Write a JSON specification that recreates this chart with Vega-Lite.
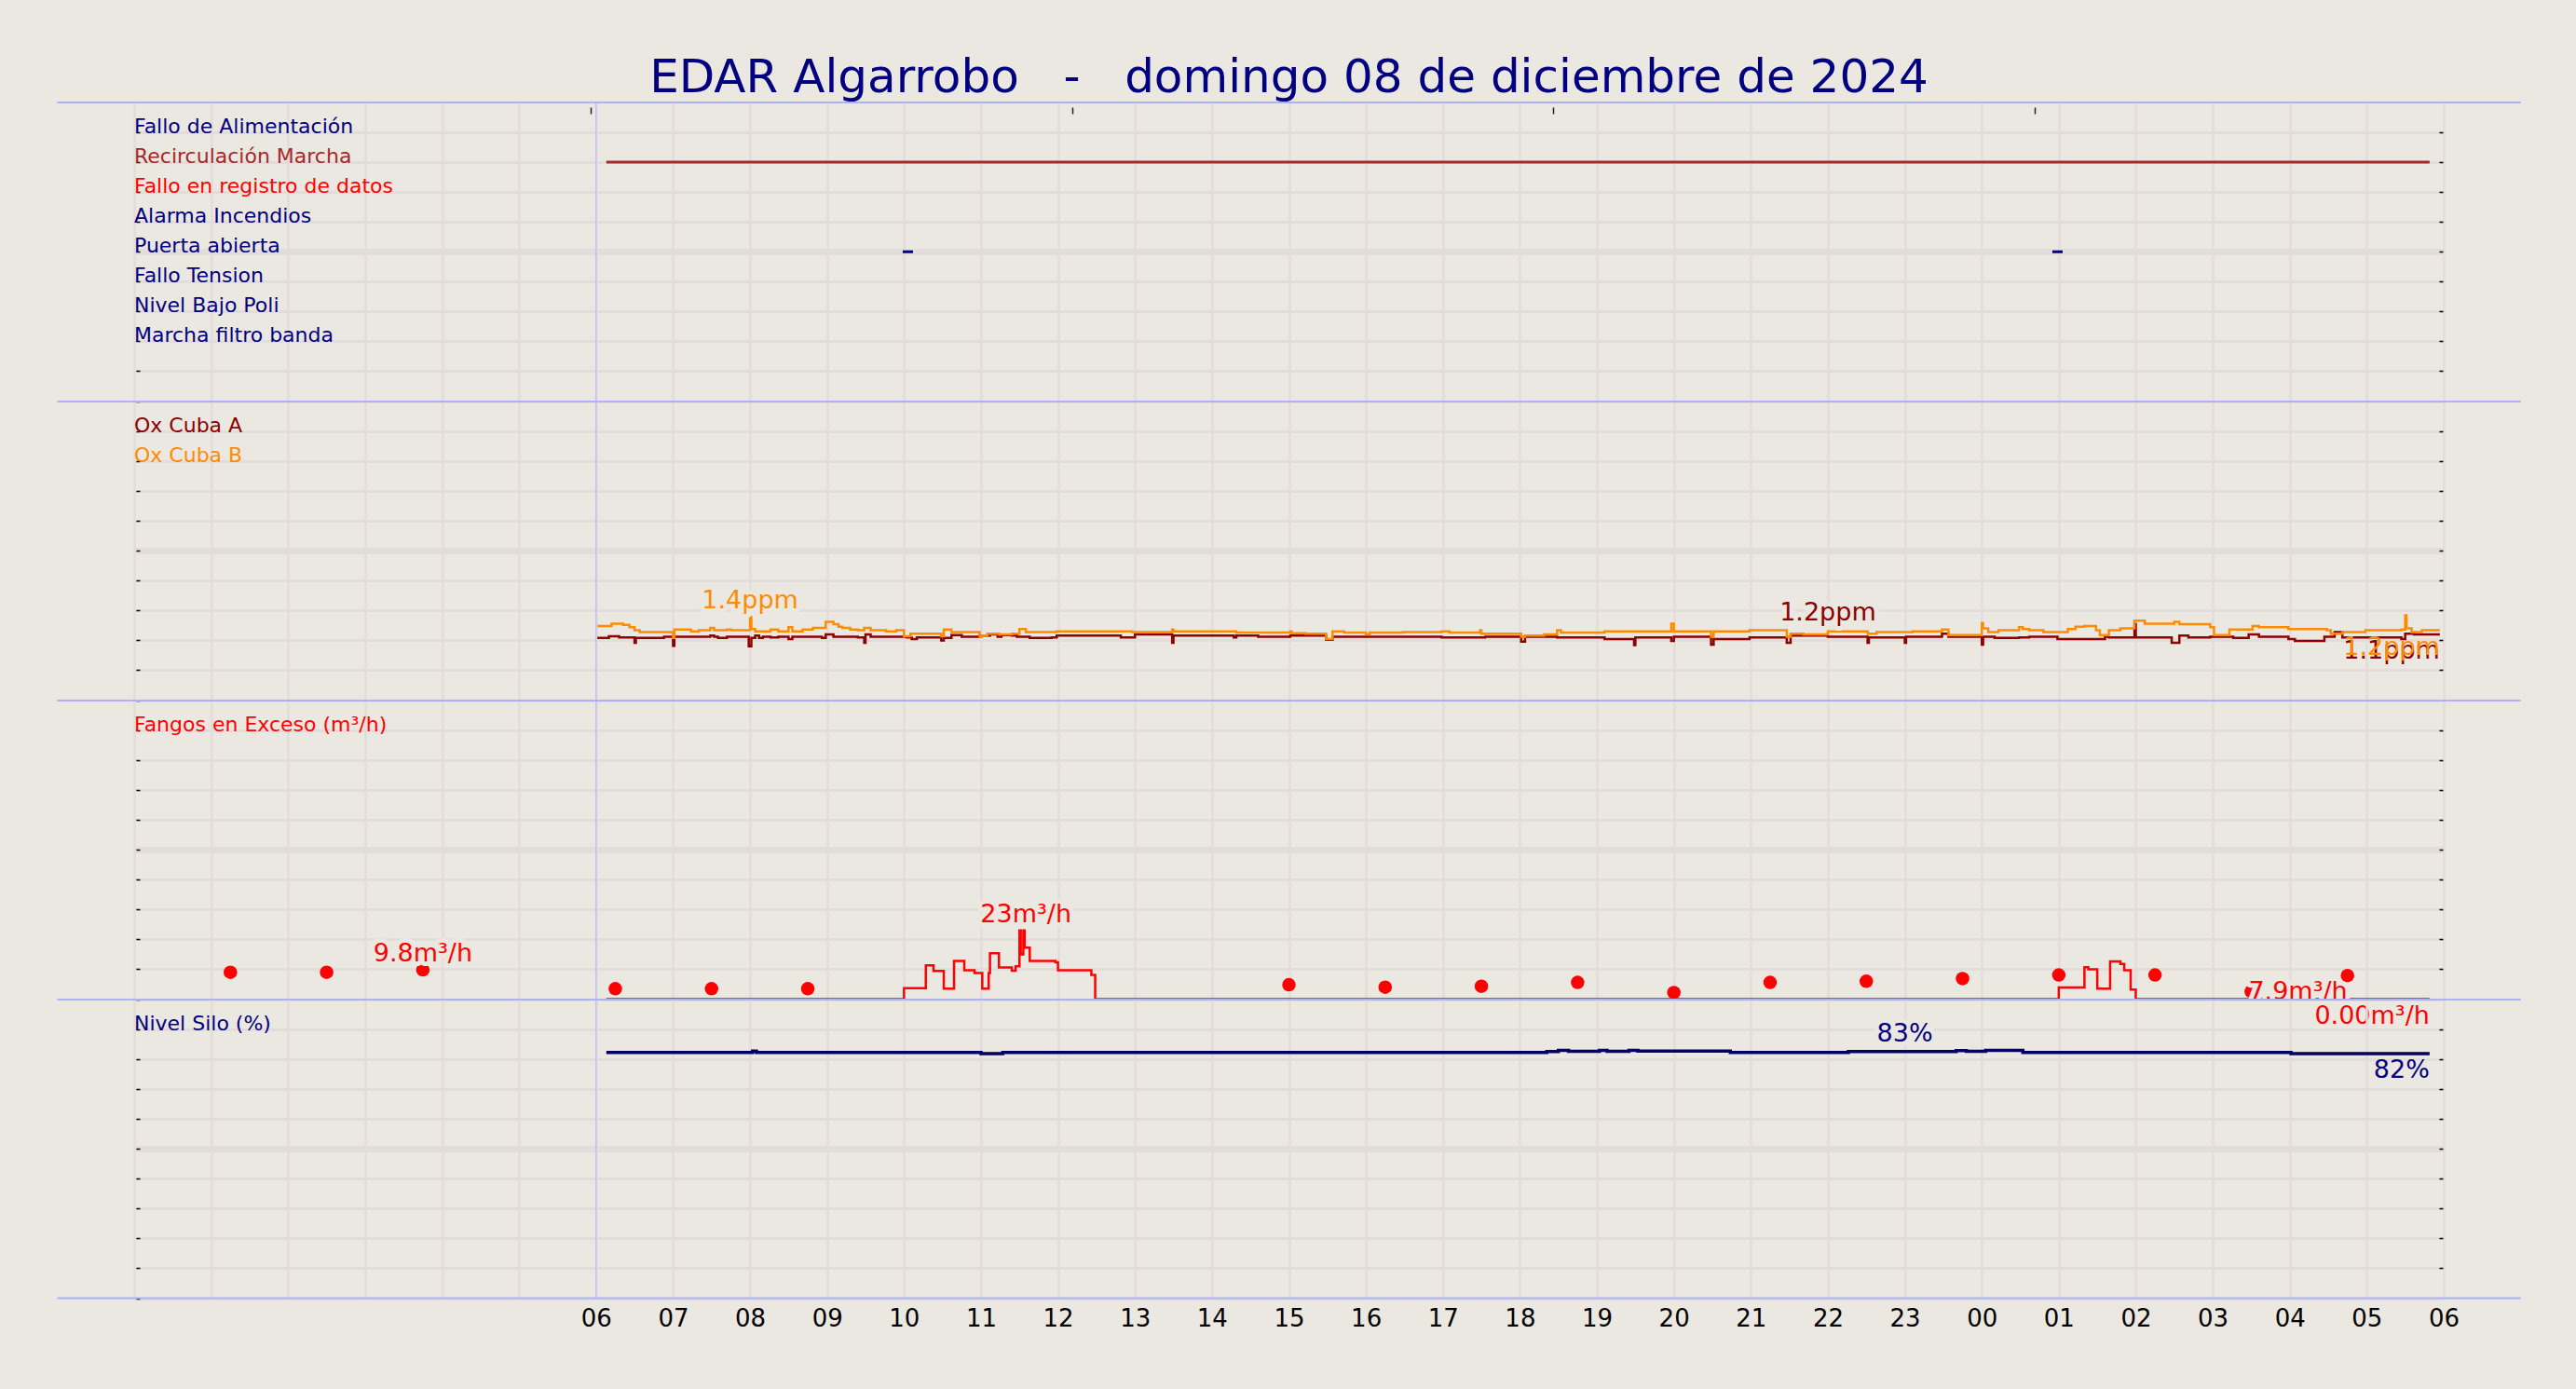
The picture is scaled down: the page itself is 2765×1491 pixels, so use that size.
{
  "$schema": "https://vega.github.io/schema/vega-lite/v6.json",
  "background": "#ebe7e1",
  "padding": {"left": 60, "top": 59, "right": 62, "bottom": 64},
  "title": {
    "text": "EDAR Algarrobo\u00a0\u00a0\u00a0-\u00a0\u00a0\u00a0domingo 08 de diciembre de 2024",
    "fontSize": 50, "font": "DejaVu Sans", "fontWeight": "normal", "color": "#000080",
    "anchor": "middle", "offset": 0
  },
  "config": {"font": "DejaVu Sans", "view": {"stroke": null}},
  "spacing": 0,
  "bounds": "flush",
  "resolve": {"scale": {"color": "independent"}},
  "datasets": {
    "sig": [
      {"signal": "Fallo de Alimentación"},
      {"signal": "Recirculación Marcha"},
      {"signal": "Fallo en registro de datos"},
      {"signal": "Alarma Incendios"},
      {"signal": "Puerta abierta"},
      {"signal": "Fallo Tension"},
      {"signal": "Nivel Bajo Poli"},
      {"signal": "Marcha filtro banda"}
    ],
    "ev": [
      {"signal": "Recirculación Marcha", "start": "2024-12-08T06:08Z", "end": "2024-12-09T05:49Z"},
      {"signal": "Puerta abierta", "start": "2024-12-08T09:59Z", "end": "2024-12-08T10:07Z"},
      {"signal": "Puerta abierta", "start": "2024-12-09T00:55Z", "end": "2024-12-09T01:03Z"}
    ],
    "ox": [
      {"t": "2024-12-08T06:01Z", "serie": "Ox Cuba A", "ppm": 1.04},
      {"t": "2024-12-08T06:10Z", "serie": "Ox Cuba A", "ppm": 1.07},
      {"t": "2024-12-08T06:18Z", "serie": "Ox Cuba A", "ppm": 1.05},
      {"t": "2024-12-08T06:30Z", "serie": "Ox Cuba A", "ppm": 0.96},
      {"t": "2024-12-08T06:31Z", "serie": "Ox Cuba A", "ppm": 1.04},
      {"t": "2024-12-08T06:53Z", "serie": "Ox Cuba A", "ppm": 1.06},
      {"t": "2024-12-08T07:00Z", "serie": "Ox Cuba A", "ppm": 0.91},
      {"t": "2024-12-08T07:01Z", "serie": "Ox Cuba A", "ppm": 1.06},
      {"t": "2024-12-08T07:29Z", "serie": "Ox Cuba A", "ppm": 1.08},
      {"t": "2024-12-08T07:32Z", "serie": "Ox Cuba A", "ppm": 1.06},
      {"t": "2024-12-08T07:35Z", "serie": "Ox Cuba A", "ppm": 1.04},
      {"t": "2024-12-08T07:42Z", "serie": "Ox Cuba A", "ppm": 1.06},
      {"t": "2024-12-08T07:59Z", "serie": "Ox Cuba A", "ppm": 0.90},
      {"t": "2024-12-08T08:01Z", "serie": "Ox Cuba A", "ppm": 1.04},
      {"t": "2024-12-08T08:04Z", "serie": "Ox Cuba A", "ppm": 1.08},
      {"t": "2024-12-08T08:07Z", "serie": "Ox Cuba A", "ppm": 1.04},
      {"t": "2024-12-08T08:10Z", "serie": "Ox Cuba A", "ppm": 1.06},
      {"t": "2024-12-08T08:16Z", "serie": "Ox Cuba A", "ppm": 1.05},
      {"t": "2024-12-08T08:22Z", "serie": "Ox Cuba A", "ppm": 1.06},
      {"t": "2024-12-08T08:30Z", "serie": "Ox Cuba A", "ppm": 1.02},
      {"t": "2024-12-08T08:33Z", "serie": "Ox Cuba A", "ppm": 1.06},
      {"t": "2024-12-08T08:56Z", "serie": "Ox Cuba A", "ppm": 1.04},
      {"t": "2024-12-08T08:59Z", "serie": "Ox Cuba A", "ppm": 1.10},
      {"t": "2024-12-08T09:05Z", "serie": "Ox Cuba A", "ppm": 1.06},
      {"t": "2024-12-08T09:24Z", "serie": "Ox Cuba A", "ppm": 1.05},
      {"t": "2024-12-08T09:29Z", "serie": "Ox Cuba A", "ppm": 0.96},
      {"t": "2024-12-08T09:30Z", "serie": "Ox Cuba A", "ppm": 1.10},
      {"t": "2024-12-08T09:34Z", "serie": "Ox Cuba A", "ppm": 1.06},
      {"t": "2024-12-08T10:02Z", "serie": "Ox Cuba A", "ppm": 1.05},
      {"t": "2024-12-08T10:06Z", "serie": "Ox Cuba A", "ppm": 1.02},
      {"t": "2024-12-08T10:10Z", "serie": "Ox Cuba A", "ppm": 1.05},
      {"t": "2024-12-08T10:29Z", "serie": "Ox Cuba A", "ppm": 1.00},
      {"t": "2024-12-08T10:31Z", "serie": "Ox Cuba A", "ppm": 1.04},
      {"t": "2024-12-08T10:37Z", "serie": "Ox Cuba A", "ppm": 1.09},
      {"t": "2024-12-08T10:45Z", "serie": "Ox Cuba A", "ppm": 1.06},
      {"t": "2024-12-08T10:59Z", "serie": "Ox Cuba A", "ppm": 1.08},
      {"t": "2024-12-08T11:07Z", "serie": "Ox Cuba A", "ppm": 1.10},
      {"t": "2024-12-08T11:13Z", "serie": "Ox Cuba A", "ppm": 1.06},
      {"t": "2024-12-08T11:16Z", "serie": "Ox Cuba A", "ppm": 1.09},
      {"t": "2024-12-08T11:24Z", "serie": "Ox Cuba A", "ppm": 1.08},
      {"t": "2024-12-08T11:28Z", "serie": "Ox Cuba A", "ppm": 1.06},
      {"t": "2024-12-08T11:38Z", "serie": "Ox Cuba A", "ppm": 1.04},
      {"t": "2024-12-08T11:55Z", "serie": "Ox Cuba A", "ppm": 1.05},
      {"t": "2024-12-08T11:59Z", "serie": "Ox Cuba A", "ppm": 1.08},
      {"t": "2024-12-08T12:49Z", "serie": "Ox Cuba A", "ppm": 1.05},
      {"t": "2024-12-08T13:00Z", "serie": "Ox Cuba A", "ppm": 1.10},
      {"t": "2024-12-08T13:29Z", "serie": "Ox Cuba A", "ppm": 0.96},
      {"t": "2024-12-08T13:30Z", "serie": "Ox Cuba A", "ppm": 1.08},
      {"t": "2024-12-08T14:17Z", "serie": "Ox Cuba A", "ppm": 1.05},
      {"t": "2024-12-08T14:19Z", "serie": "Ox Cuba A", "ppm": 1.08},
      {"t": "2024-12-08T14:36Z", "serie": "Ox Cuba A", "ppm": 1.06},
      {"t": "2024-12-08T15:01Z", "serie": "Ox Cuba A", "ppm": 1.08},
      {"t": "2024-12-08T15:29Z", "serie": "Ox Cuba A", "ppm": 1.01},
      {"t": "2024-12-08T15:34Z", "serie": "Ox Cuba A", "ppm": 1.06},
      {"t": "2024-12-08T16:59Z", "serie": "Ox Cuba A", "ppm": 1.05},
      {"t": "2024-12-08T17:33Z", "serie": "Ox Cuba A", "ppm": 1.06},
      {"t": "2024-12-08T18:01Z", "serie": "Ox Cuba A", "ppm": 0.98},
      {"t": "2024-12-08T18:04Z", "serie": "Ox Cuba A", "ppm": 1.06},
      {"t": "2024-12-08T18:29Z", "serie": "Ox Cuba A", "ppm": 1.05},
      {"t": "2024-12-08T19:06Z", "serie": "Ox Cuba A", "ppm": 1.02},
      {"t": "2024-12-08T19:29Z", "serie": "Ox Cuba A", "ppm": 0.92},
      {"t": "2024-12-08T19:30Z", "serie": "Ox Cuba A", "ppm": 1.05},
      {"t": "2024-12-08T19:58Z", "serie": "Ox Cuba A", "ppm": 0.99},
      {"t": "2024-12-08T20:00Z", "serie": "Ox Cuba A", "ppm": 1.06},
      {"t": "2024-12-08T20:29Z", "serie": "Ox Cuba A", "ppm": 0.93},
      {"t": "2024-12-08T20:31Z", "serie": "Ox Cuba A", "ppm": 1.02},
      {"t": "2024-12-08T20:59Z", "serie": "Ox Cuba A", "ppm": 1.05},
      {"t": "2024-12-08T21:28Z", "serie": "Ox Cuba A", "ppm": 0.96},
      {"t": "2024-12-08T21:31Z", "serie": "Ox Cuba A", "ppm": 1.08},
      {"t": "2024-12-08T22:00Z", "serie": "Ox Cuba A", "ppm": 1.06},
      {"t": "2024-12-08T22:31Z", "serie": "Ox Cuba A", "ppm": 0.96},
      {"t": "2024-12-08T22:32Z", "serie": "Ox Cuba A", "ppm": 1.05},
      {"t": "2024-12-08T23:00Z", "serie": "Ox Cuba A", "ppm": 0.96},
      {"t": "2024-12-08T23:01Z", "serie": "Ox Cuba A", "ppm": 1.06},
      {"t": "2024-12-08T23:29Z", "serie": "Ox Cuba A", "ppm": 1.11},
      {"t": "2024-12-08T23:34Z", "serie": "Ox Cuba A", "ppm": 1.06},
      {"t": "2024-12-09T00:00Z", "serie": "Ox Cuba A", "ppm": 0.93},
      {"t": "2024-12-09T00:01Z", "serie": "Ox Cuba A", "ppm": 1.06},
      {"t": "2024-12-09T00:10Z", "serie": "Ox Cuba A", "ppm": 1.04},
      {"t": "2024-12-09T00:29Z", "serie": "Ox Cuba A", "ppm": 1.05},
      {"t": "2024-12-09T00:37Z", "serie": "Ox Cuba A", "ppm": 1.06},
      {"t": "2024-12-09T00:59Z", "serie": "Ox Cuba A", "ppm": 1.02},
      {"t": "2024-12-09T01:36Z", "serie": "Ox Cuba A", "ppm": 1.06},
      {"t": "2024-12-09T01:39Z", "serie": "Ox Cuba A", "ppm": 1.05},
      {"t": "2024-12-09T01:59Z", "serie": "Ox Cuba A", "ppm": 1.27},
      {"t": "2024-12-09T02:00Z", "serie": "Ox Cuba A", "ppm": 1.05},
      {"t": "2024-12-09T02:28Z", "serie": "Ox Cuba A", "ppm": 0.96},
      {"t": "2024-12-09T02:34Z", "serie": "Ox Cuba A", "ppm": 1.08},
      {"t": "2024-12-09T02:41Z", "serie": "Ox Cuba A", "ppm": 1.05},
      {"t": "2024-12-09T02:58Z", "serie": "Ox Cuba A", "ppm": 1.06},
      {"t": "2024-12-09T03:16Z", "serie": "Ox Cuba A", "ppm": 1.04},
      {"t": "2024-12-09T03:28Z", "serie": "Ox Cuba A", "ppm": 1.10},
      {"t": "2024-12-09T03:36Z", "serie": "Ox Cuba A", "ppm": 1.06},
      {"t": "2024-12-09T03:59Z", "serie": "Ox Cuba A", "ppm": 1.02},
      {"t": "2024-12-09T04:04Z", "serie": "Ox Cuba A", "ppm": 0.99},
      {"t": "2024-12-09T04:27Z", "serie": "Ox Cuba A", "ppm": 1.06},
      {"t": "2024-12-09T04:35Z", "serie": "Ox Cuba A", "ppm": 1.14},
      {"t": "2024-12-09T04:41Z", "serie": "Ox Cuba A", "ppm": 1.05},
      {"t": "2024-12-09T05:27Z", "serie": "Ox Cuba A", "ppm": 1.02},
      {"t": "2024-12-09T05:30Z", "serie": "Ox Cuba A", "ppm": 1.11},
      {"t": "2024-12-09T05:37Z", "serie": "Ox Cuba A", "ppm": 1.10},
      {"t": "2024-12-09T05:57Z", "serie": "Ox Cuba A", "ppm": 1.10},
      {"t": "2024-12-08T06:01Z", "serie": "Ox Cuba B", "ppm": 1.24},
      {"t": "2024-12-08T06:12Z", "serie": "Ox Cuba B", "ppm": 1.28},
      {"t": "2024-12-08T06:21Z", "serie": "Ox Cuba B", "ppm": 1.26},
      {"t": "2024-12-08T06:26Z", "serie": "Ox Cuba B", "ppm": 1.22},
      {"t": "2024-12-08T06:30Z", "serie": "Ox Cuba B", "ppm": 1.17},
      {"t": "2024-12-08T06:34Z", "serie": "Ox Cuba B", "ppm": 1.14},
      {"t": "2024-12-08T07:00Z", "serie": "Ox Cuba B", "ppm": 1.04},
      {"t": "2024-12-08T07:01Z", "serie": "Ox Cuba B", "ppm": 1.18},
      {"t": "2024-12-08T07:14Z", "serie": "Ox Cuba B", "ppm": 1.15},
      {"t": "2024-12-08T07:20Z", "serie": "Ox Cuba B", "ppm": 1.17},
      {"t": "2024-12-08T07:29Z", "serie": "Ox Cuba B", "ppm": 1.21},
      {"t": "2024-12-08T07:32Z", "serie": "Ox Cuba B", "ppm": 1.17},
      {"t": "2024-12-08T07:42Z", "serie": "Ox Cuba B", "ppm": 1.18},
      {"t": "2024-12-08T07:45Z", "serie": "Ox Cuba B", "ppm": 1.17},
      {"t": "2024-12-08T08:00Z", "serie": "Ox Cuba B", "ppm": 1.39},
      {"t": "2024-12-08T08:01Z", "serie": "Ox Cuba B", "ppm": 1.19},
      {"t": "2024-12-08T08:04Z", "serie": "Ox Cuba B", "ppm": 1.15},
      {"t": "2024-12-08T08:16Z", "serie": "Ox Cuba B", "ppm": 1.18},
      {"t": "2024-12-08T08:22Z", "serie": "Ox Cuba B", "ppm": 1.15},
      {"t": "2024-12-08T08:30Z", "serie": "Ox Cuba B", "ppm": 1.22},
      {"t": "2024-12-08T08:33Z", "serie": "Ox Cuba B", "ppm": 1.15},
      {"t": "2024-12-08T08:41Z", "serie": "Ox Cuba B", "ppm": 1.18},
      {"t": "2024-12-08T08:49Z", "serie": "Ox Cuba B", "ppm": 1.21},
      {"t": "2024-12-08T08:59Z", "serie": "Ox Cuba B", "ppm": 1.31},
      {"t": "2024-12-08T09:05Z", "serie": "Ox Cuba B", "ppm": 1.27},
      {"t": "2024-12-08T09:09Z", "serie": "Ox Cuba B", "ppm": 1.23},
      {"t": "2024-12-08T09:12Z", "serie": "Ox Cuba B", "ppm": 1.21},
      {"t": "2024-12-08T09:18Z", "serie": "Ox Cuba B", "ppm": 1.18},
      {"t": "2024-12-08T09:24Z", "serie": "Ox Cuba B", "ppm": 1.17},
      {"t": "2024-12-08T09:29Z", "serie": "Ox Cuba B", "ppm": 1.21},
      {"t": "2024-12-08T09:34Z", "serie": "Ox Cuba B", "ppm": 1.17},
      {"t": "2024-12-08T09:46Z", "serie": "Ox Cuba B", "ppm": 1.15},
      {"t": "2024-12-08T09:54Z", "serie": "Ox Cuba B", "ppm": 1.17},
      {"t": "2024-12-08T10:00Z", "serie": "Ox Cuba B", "ppm": 1.07},
      {"t": "2024-12-08T10:05Z", "serie": "Ox Cuba B", "ppm": 1.11},
      {"t": "2024-12-08T10:29Z", "serie": "Ox Cuba B", "ppm": 1.07},
      {"t": "2024-12-08T10:31Z", "serie": "Ox Cuba B", "ppm": 1.18},
      {"t": "2024-12-08T10:37Z", "serie": "Ox Cuba B", "ppm": 1.14},
      {"t": "2024-12-08T10:59Z", "serie": "Ox Cuba B", "ppm": 1.06},
      {"t": "2024-12-08T11:01Z", "serie": "Ox Cuba B", "ppm": 1.08},
      {"t": "2024-12-08T11:05Z", "serie": "Ox Cuba B", "ppm": 1.11},
      {"t": "2024-12-08T11:14Z", "serie": "Ox Cuba B", "ppm": 1.10},
      {"t": "2024-12-08T11:24Z", "serie": "Ox Cuba B", "ppm": 1.11},
      {"t": "2024-12-08T11:30Z", "serie": "Ox Cuba B", "ppm": 1.19},
      {"t": "2024-12-08T11:35Z", "serie": "Ox Cuba B", "ppm": 1.14},
      {"t": "2024-12-08T11:59Z", "serie": "Ox Cuba B", "ppm": 1.15},
      {"t": "2024-12-08T12:58Z", "serie": "Ox Cuba B", "ppm": 1.14},
      {"t": "2024-12-08T13:29Z", "serie": "Ox Cuba B", "ppm": 1.18},
      {"t": "2024-12-08T13:30Z", "serie": "Ox Cuba B", "ppm": 1.15},
      {"t": "2024-12-08T14:19Z", "serie": "Ox Cuba B", "ppm": 1.13},
      {"t": "2024-12-08T15:01Z", "serie": "Ox Cuba B", "ppm": 1.15},
      {"t": "2024-12-08T15:02Z", "serie": "Ox Cuba B", "ppm": 1.12},
      {"t": "2024-12-08T15:13Z", "serie": "Ox Cuba B", "ppm": 1.11},
      {"t": "2024-12-08T15:29Z", "serie": "Ox Cuba B", "ppm": 1.02},
      {"t": "2024-12-08T15:34Z", "serie": "Ox Cuba B", "ppm": 1.15},
      {"t": "2024-12-08T15:43Z", "serie": "Ox Cuba B", "ppm": 1.13},
      {"t": "2024-12-08T16:00Z", "serie": "Ox Cuba B", "ppm": 1.10},
      {"t": "2024-12-08T16:03Z", "serie": "Ox Cuba B", "ppm": 1.13},
      {"t": "2024-12-08T16:29Z", "serie": "Ox Cuba B", "ppm": 1.14},
      {"t": "2024-12-08T16:59Z", "serie": "Ox Cuba B", "ppm": 1.15},
      {"t": "2024-12-08T17:05Z", "serie": "Ox Cuba B", "ppm": 1.13},
      {"t": "2024-12-08T17:29Z", "serie": "Ox Cuba B", "ppm": 1.17},
      {"t": "2024-12-08T17:30Z", "serie": "Ox Cuba B", "ppm": 1.11},
      {"t": "2024-12-08T18:01Z", "serie": "Ox Cuba B", "ppm": 1.06},
      {"t": "2024-12-08T18:04Z", "serie": "Ox Cuba B", "ppm": 1.08},
      {"t": "2024-12-08T18:19Z", "serie": "Ox Cuba B", "ppm": 1.10},
      {"t": "2024-12-08T18:29Z", "serie": "Ox Cuba B", "ppm": 1.17},
      {"t": "2024-12-08T18:32Z", "serie": "Ox Cuba B", "ppm": 1.13},
      {"t": "2024-12-08T19:06Z", "serie": "Ox Cuba B", "ppm": 1.15},
      {"t": "2024-12-08T19:58Z", "serie": "Ox Cuba B", "ppm": 1.28},
      {"t": "2024-12-08T20:00Z", "serie": "Ox Cuba B", "ppm": 1.15},
      {"t": "2024-12-08T20:29Z", "serie": "Ox Cuba B", "ppm": 1.06},
      {"t": "2024-12-08T20:31Z", "serie": "Ox Cuba B", "ppm": 1.15},
      {"t": "2024-12-08T20:59Z", "serie": "Ox Cuba B", "ppm": 1.17},
      {"t": "2024-12-08T21:28Z", "serie": "Ox Cuba B", "ppm": 1.06},
      {"t": "2024-12-08T21:31Z", "serie": "Ox Cuba B", "ppm": 1.11},
      {"t": "2024-12-08T21:41Z", "serie": "Ox Cuba B", "ppm": 1.10},
      {"t": "2024-12-08T22:00Z", "serie": "Ox Cuba B", "ppm": 1.15},
      {"t": "2024-12-08T22:31Z", "serie": "Ox Cuba B", "ppm": 1.11},
      {"t": "2024-12-08T22:38Z", "serie": "Ox Cuba B", "ppm": 1.14},
      {"t": "2024-12-08T23:06Z", "serie": "Ox Cuba B", "ppm": 1.15},
      {"t": "2024-12-08T23:29Z", "serie": "Ox Cuba B", "ppm": 1.18},
      {"t": "2024-12-08T23:34Z", "serie": "Ox Cuba B", "ppm": 1.09},
      {"t": "2024-12-09T00:00Z", "serie": "Ox Cuba B", "ppm": 1.29},
      {"t": "2024-12-09T00:01Z", "serie": "Ox Cuba B", "ppm": 1.20},
      {"t": "2024-12-09T00:05Z", "serie": "Ox Cuba B", "ppm": 1.14},
      {"t": "2024-12-09T00:13Z", "serie": "Ox Cuba B", "ppm": 1.17},
      {"t": "2024-12-09T00:29Z", "serie": "Ox Cuba B", "ppm": 1.22},
      {"t": "2024-12-09T00:32Z", "serie": "Ox Cuba B", "ppm": 1.19},
      {"t": "2024-12-09T00:37Z", "serie": "Ox Cuba B", "ppm": 1.17},
      {"t": "2024-12-09T00:48Z", "serie": "Ox Cuba B", "ppm": 1.14},
      {"t": "2024-12-09T01:07Z", "serie": "Ox Cuba B", "ppm": 1.19},
      {"t": "2024-12-09T01:13Z", "serie": "Ox Cuba B", "ppm": 1.23},
      {"t": "2024-12-09T01:20Z", "serie": "Ox Cuba B", "ppm": 1.24},
      {"t": "2024-12-09T01:29Z", "serie": "Ox Cuba B", "ppm": 1.17},
      {"t": "2024-12-09T01:32Z", "serie": "Ox Cuba B", "ppm": 1.09},
      {"t": "2024-12-09T01:39Z", "serie": "Ox Cuba B", "ppm": 1.17},
      {"t": "2024-12-09T01:48Z", "serie": "Ox Cuba B", "ppm": 1.20},
      {"t": "2024-12-09T01:59Z", "serie": "Ox Cuba B", "ppm": 1.33},
      {"t": "2024-12-09T02:07Z", "serie": "Ox Cuba B", "ppm": 1.28},
      {"t": "2024-12-09T02:30Z", "serie": "Ox Cuba B", "ppm": 1.31},
      {"t": "2024-12-09T02:34Z", "serie": "Ox Cuba B", "ppm": 1.27},
      {"t": "2024-12-09T02:58Z", "serie": "Ox Cuba B", "ppm": 1.22},
      {"t": "2024-12-09T03:01Z", "serie": "Ox Cuba B", "ppm": 1.09},
      {"t": "2024-12-09T03:13Z", "serie": "Ox Cuba B", "ppm": 1.18},
      {"t": "2024-12-09T03:31Z", "serie": "Ox Cuba B", "ppm": 1.24},
      {"t": "2024-12-09T03:36Z", "serie": "Ox Cuba B", "ppm": 1.22},
      {"t": "2024-12-09T03:59Z", "serie": "Ox Cuba B", "ppm": 1.19},
      {"t": "2024-12-09T04:29Z", "serie": "Ox Cuba B", "ppm": 1.17},
      {"t": "2024-12-09T04:32Z", "serie": "Ox Cuba B", "ppm": 1.11},
      {"t": "2024-12-09T04:41Z", "serie": "Ox Cuba B", "ppm": 1.14},
      {"t": "2024-12-09T04:59Z", "serie": "Ox Cuba B", "ppm": 1.17},
      {"t": "2024-12-09T05:27Z", "serie": "Ox Cuba B", "ppm": 1.18},
      {"t": "2024-12-09T05:30Z", "serie": "Ox Cuba B", "ppm": 1.42},
      {"t": "2024-12-09T05:31Z", "serie": "Ox Cuba B", "ppm": 1.20},
      {"t": "2024-12-09T05:35Z", "serie": "Ox Cuba B", "ppm": 1.14},
      {"t": "2024-12-09T05:43Z", "serie": "Ox Cuba B", "ppm": 1.17},
      {"t": "2024-12-09T05:57Z", "serie": "Ox Cuba B", "ppm": 1.17}
    ],
    "oxnote": [
      {"t": "2024-12-08T08:00Z", "serie": "Ox Cuba B", "ppm": 1.4, "txt": "1.4ppm", "pos": "max"},
      {"t": "2024-12-08T22:00Z", "serie": "Ox Cuba A", "ppm": 1.2, "txt": "1.2ppm", "pos": "max"},
      {"t": "2024-12-09T05:57Z", "serie": "Ox Cuba A", "ppm": 1.1, "txt": "1.1ppm", "pos": "end"},
      {"t": "2024-12-09T05:57Z", "serie": "Ox Cuba B", "ppm": 1.17, "txt": "1.2ppm", "pos": "end"}
    ],
    "fl": [
      {"t": "2024-12-08T06:08Z", "m3h": 0},
      {"t": "2024-12-08T10:00Z", "m3h": 3.7},
      {"t": "2024-12-08T10:17Z", "m3h": 11.3},
      {"t": "2024-12-08T10:23Z", "m3h": 9.4},
      {"t": "2024-12-08T10:31Z", "m3h": 3.5},
      {"t": "2024-12-08T10:39Z", "m3h": 12.8},
      {"t": "2024-12-08T10:47Z", "m3h": 9.7},
      {"t": "2024-12-08T10:55Z", "m3h": 8.7},
      {"t": "2024-12-08T11:01Z", "m3h": 3.5},
      {"t": "2024-12-08T11:06Z", "m3h": 8.7},
      {"t": "2024-12-08T11:07Z", "m3h": 15.4},
      {"t": "2024-12-08T11:14Z", "m3h": 10.6},
      {"t": "2024-12-08T11:24Z", "m3h": 9.5},
      {"t": "2024-12-08T11:27Z", "m3h": 11.0},
      {"t": "2024-12-08T11:30Z", "m3h": 23.0},
      {"t": "2024-12-08T11:31Z", "m3h": 15.0},
      {"t": "2024-12-08T11:33Z", "m3h": 23.0},
      {"t": "2024-12-08T11:34Z", "m3h": 17.2},
      {"t": "2024-12-08T11:38Z", "m3h": 12.8},
      {"t": "2024-12-08T11:58Z", "m3h": 12.3},
      {"t": "2024-12-08T12:00Z", "m3h": 9.7},
      {"t": "2024-12-08T12:26Z", "m3h": 8.1},
      {"t": "2024-12-08T12:29Z", "m3h": 0},
      {"t": "2024-12-09T01:00Z", "m3h": 3.9},
      {"t": "2024-12-09T01:20Z", "m3h": 10.7},
      {"t": "2024-12-09T01:23Z", "m3h": 10.0},
      {"t": "2024-12-09T01:30Z", "m3h": 3.5},
      {"t": "2024-12-09T01:40Z", "m3h": 12.6},
      {"t": "2024-12-09T01:48Z", "m3h": 11.8},
      {"t": "2024-12-09T01:51Z", "m3h": 9.7},
      {"t": "2024-12-09T01:56Z", "m3h": 3.2},
      {"t": "2024-12-09T02:00Z", "m3h": 0},
      {"t": "2024-12-09T05:49Z", "m3h": 0}
    ],
    "fd": [
      {"t": "2024-12-08T01:15Z", "m3h": 9.0},
      {"t": "2024-12-08T02:30Z", "m3h": 9.0},
      {"t": "2024-12-08T03:45Z", "m3h": 9.8},
      {"t": "2024-12-08T06:15Z", "m3h": 3.5},
      {"t": "2024-12-08T07:30Z", "m3h": 3.5},
      {"t": "2024-12-08T08:45Z", "m3h": 3.5},
      {"t": "2024-12-08T15:00Z", "m3h": 4.8},
      {"t": "2024-12-08T16:15Z", "m3h": 4.0},
      {"t": "2024-12-08T17:30Z", "m3h": 4.3},
      {"t": "2024-12-08T18:45Z", "m3h": 5.6},
      {"t": "2024-12-08T20:00Z", "m3h": 2.2},
      {"t": "2024-12-08T21:15Z", "m3h": 5.6},
      {"t": "2024-12-08T22:30Z", "m3h": 6.0},
      {"t": "2024-12-08T23:45Z", "m3h": 6.9},
      {"t": "2024-12-09T01:00Z", "m3h": 8.1},
      {"t": "2024-12-09T02:15Z", "m3h": 8.1},
      {"t": "2024-12-09T03:30Z", "m3h": 2.5},
      {"t": "2024-12-09T04:45Z", "m3h": 7.9}
    ],
    "flnote": [
      {"t": "2024-12-08T03:45Z", "m3h": 9.8, "txt": "9.8m³/h", "pos": "max"},
      {"t": "2024-12-08T11:35Z", "m3h": 23, "txt": "23m³/h", "pos": "max"},
      {"t": "2024-12-09T05:49Z", "m3h": 0, "txt": "0.00m³/h", "pos": "end"},
      {"t": "2024-12-09T04:45Z", "m3h": 7.9, "txt": "7.9m³/h", "pos": "end"}
    ],
    "niv": [
      {"t": "2024-12-08T06:08Z", "pct": 82.3},
      {"t": "2024-12-08T08:02Z", "pct": 82.8},
      {"t": "2024-12-08T08:05Z", "pct": 82.3},
      {"t": "2024-12-08T11:00Z", "pct": 81.9},
      {"t": "2024-12-08T11:17Z", "pct": 82.3},
      {"t": "2024-12-08T18:21Z", "pct": 82.6},
      {"t": "2024-12-08T18:30Z", "pct": 83.0},
      {"t": "2024-12-08T18:38Z", "pct": 82.7},
      {"t": "2024-12-08T19:02Z", "pct": 83.0},
      {"t": "2024-12-08T19:08Z", "pct": 82.7},
      {"t": "2024-12-08T19:25Z", "pct": 83.0},
      {"t": "2024-12-08T19:32Z", "pct": 82.8},
      {"t": "2024-12-08T20:44Z", "pct": 82.3},
      {"t": "2024-12-08T22:16Z", "pct": 82.6},
      {"t": "2024-12-08T23:40Z", "pct": 82.9},
      {"t": "2024-12-08T23:48Z", "pct": 82.7},
      {"t": "2024-12-09T00:03Z", "pct": 83.0},
      {"t": "2024-12-09T00:32Z", "pct": 82.3},
      {"t": "2024-12-09T04:01Z", "pct": 81.9},
      {"t": "2024-12-09T05:49Z", "pct": 81.9}
    ],
    "nivnote": [
      {"t": "2024-12-08T23:00Z", "pct": 83, "txt": "83%", "pos": "max"},
      {"t": "2024-12-09T05:49Z", "pct": 81.9, "txt": "82%", "pos": "end"}
    ]
  },
  "vconcat": [
    {
      "width": 2479, "height": 320.5,
      "resolve": {"scale": {"y": "independent"}, "axis": {"x": "independent", "y": "independent"}},
      "layer": [
        {
          "data": {"values": [{}]},
          "mark": {"type": "rule", "color": "#c0c0fa", "strokeWidth": 1.5},
          "encoding": {
            "x": {"datum": 1733637600000, "type": "temporal", "scale": {"type": "utc", "domain": [1733616000000, 1733724000000], "nice": false}, "axis": null}
          }
        },
        {
          "data": {"name": "ev"},
          "mark": {"type": "rule", "strokeWidth": 3},
          "encoding": {
            "x": {"field": "start", "type": "temporal", "scale": {"type": "utc", "domain": [1733616000000, 1733724000000], "nice": false},
              "axis": {"grid": true, "gridColor": "#e2dddb", "gridWidth": 2.5, "ticks": false, "labels": false, "domain": false, "title": null,
                "values": [1733616000000, 1733619600000, 1733623200000, 1733626800000, 1733630400000, 1733634000000, 1733637600000, 1733641200000, 1733644800000, 1733648400000, 1733652000000, 1733655600000, 1733659200000, 1733662800000, 1733666400000, 1733670000000, 1733673600000, 1733677200000, 1733680800000, 1733684400000, 1733688000000, 1733691600000, 1733695200000, 1733698800000, 1733702400000, 1733706000000, 1733709600000, 1733713200000, 1733716800000, 1733720400000, 1733724000000]}},
            "x2": {"field": "end"},
            "y": {"field": "signal", "type": "nominal",
              "scale": {"type": "point", "padding": 1, "domain": ["Fallo de Alimentación", "Recirculación Marcha", "Fallo en registro de datos", "Alarma Incendios", "Puerta abierta", "Fallo Tension", "Nivel Bajo Poli", "Marcha filtro banda", " "]},
              "axis": {"orient": "left", "grid": true, "gridColor": "#e2dddb", "gridWidth": {"condition": {"test": "datum.value === 'Puerta abierta'", "value": 7}, "value": 3}, "ticks": true, "tickSize": 4, "tickWidth": 1.5, "tickColor": "#000000", "offset": -6, "labels": false, "domain": false, "title": null}},
            "color": {"field": "signal", "type": "nominal", "legend": null,
              "scale": {"domain": ["Fallo de Alimentación", "Recirculación Marcha", "Fallo en registro de datos", "Alarma Incendios", "Puerta abierta", "Fallo Tension", "Nivel Bajo Poli", "Marcha filtro banda", " "],
                "range": ["#000080", "#a52a2a", "#ff0000", "#000080", "#000080", "#000080", "#000080", "#000080", "#000080"]}}
          }
        },
        {
          "data": {"name": "ev"},
          "mark": {"type": "rule", "opacity": 0},
          "encoding": {
            "x": {"field": "start", "type": "temporal", "scale": {"type": "utc", "domain": [1733616000000, 1733724000000], "nice": false},
              "axis": {"orient": "top", "values": [1733637360000, 1733659860000, 1733682360000, 1733704860000],
                "grid": false, "ticks": true, "tickSize": 7, "tickWidth": 1.5, "tickColor": "#222222", "offset": -12, "labels": false, "domain": false, "title": null}},
            "x2": {"field": "end"},
            "y": {"field": "signal", "type": "nominal",
              "scale": {"type": "point", "padding": 1, "domain": ["Fallo de Alimentación", "Recirculación Marcha", "Fallo en registro de datos", "Alarma Incendios", "Puerta abierta", "Fallo Tension", "Nivel Bajo Poli", "Marcha filtro banda", " "]},
              "axis": {"orient": "right", "grid": false, "ticks": true, "tickSize": 4, "tickWidth": 1.5, "tickColor": "#000000", "offset": -5, "labels": false, "domain": false, "title": null}}
          }
        },
        {
          "data": {"name": "sig"},
          "mark": {"type": "text", "align": "left", "baseline": "alphabetic", "fontSize": 22, "dy": 1},
          "encoding": {
            "x": {"datum": 1733616000000, "type": "temporal", "scale": {"type": "utc", "domain": [1733616000000, 1733724000000], "nice": false}, "axis": null},
            "y": {"field": "signal", "type": "nominal",
              "scale": {"type": "point", "padding": 1, "domain": ["Fallo de Alimentación", "Recirculación Marcha", "Fallo en registro de datos", "Alarma Incendios", "Puerta abierta", "Fallo Tension", "Nivel Bajo Poli", "Marcha filtro banda", " "]},
              "axis": null},
            "color": {"field": "signal", "type": "nominal", "legend": null,
              "scale": {"domain": ["Fallo de Alimentación", "Recirculación Marcha", "Fallo en registro de datos", "Alarma Incendios", "Puerta abierta", "Fallo Tension", "Nivel Bajo Poli", "Marcha filtro banda", " "],
                "range": ["#000080", "#a52a2a", "#ff0000", "#000080", "#000080", "#000080", "#000080", "#000080", "#000080"]}},
            "text": {"field": "signal"}
          }
        },
        {
          "data": {"values": [{}]},
          "mark": {"type": "rule", "color": "#b0b0f8", "strokeWidth": 2, "clip": false},
          "encoding": {
            "x": {"datum": 1733612400000, "type": "temporal", "scale": {"type": "utc", "domain": [1733616000000, 1733724000000], "nice": false}, "axis": null},
            "x2": {"datum": 1733727600000},
            "y": {"datum": 1, "type": "quantitative", "scale": {"domain": [0, 1], "nice": false, "zero": false}, "axis": null}
          }
        }
      ]
    },
    {
      "width": 2479, "height": 320.5,
      "resolve": {"scale": {"y": "independent"}, "axis": {"x": "independent", "y": "independent"}},
      "layer": [
        {
          "data": {"values": [{}]},
          "mark": {"type": "rule", "color": "#c0c0fa", "strokeWidth": 1.5},
          "encoding": {
            "x": {"datum": 1733637600000, "type": "temporal", "scale": {"type": "utc", "domain": [1733616000000, 1733724000000], "nice": false}, "axis": null}
          }
        },
        {
          "data": {"name": "ox"},
          "mark": {"type": "line", "interpolate": "step-after", "strokeWidth": 2.5},
          "encoding": {
            "x": {"field": "t", "type": "temporal", "scale": {"type": "utc", "domain": [1733616000000, 1733724000000], "nice": false},
              "axis": {"grid": true, "gridColor": "#e2dddb", "gridWidth": 2.5, "ticks": false, "labels": false, "domain": false, "title": null,
                "values": [1733616000000, 1733619600000, 1733623200000, 1733626800000, 1733630400000, 1733634000000, 1733637600000, 1733641200000, 1733644800000, 1733648400000, 1733652000000, 1733655600000, 1733659200000, 1733662800000, 1733666400000, 1733670000000, 1733673600000, 1733677200000, 1733680800000, 1733684400000, 1733688000000, 1733691600000, 1733695200000, 1733698800000, 1733702400000, 1733706000000, 1733709600000, 1733713200000, 1733716800000, 1733720400000, 1733724000000]}},
            "y": {"field": "ppm", "type": "quantitative", "scale": {"domain": [0, 5], "nice": false, "zero": false},
              "axis": {"orient": "left", "values": [0, 0.5, 1, 1.5, 2, 2.5, 3, 3.5, 4, 4.5, 5], "grid": true, "gridColor": "#e2dddb", "gridWidth": {"condition": {"test": "datum.value === 2.5", "value": 7}, "value": 3}, "ticks": true, "tickSize": 4, "tickWidth": 1.5, "tickColor": "#000000", "offset": -6, "labels": false, "domain": false, "title": null}},
            "color": {"field": "serie", "type": "nominal", "legend": null, "scale": {"domain": ["Ox Cuba A", "Ox Cuba B"], "range": ["#8b0000", "#ff8c00"]}}
          }
        },
        {
          "data": {"values": [{}]},
          "mark": {"type": "text", "align": "left", "baseline": "alphabetic", "fontSize": 22, "dy": 1, "color": "#8b0000", "text": "Ox Cuba A"},
          "encoding": {
            "x": {"datum": 1733616000000, "type": "temporal", "scale": {"type": "utc", "domain": [1733616000000, 1733724000000], "nice": false}, "axis": null},
            "y": {"datum": 4.5, "type": "quantitative", "scale": {"domain": [0, 5], "nice": false, "zero": false}, "axis": null}
          }
        },
        {
          "data": {"values": [{}]},
          "mark": {"type": "text", "align": "left", "baseline": "alphabetic", "fontSize": 22, "dy": 1, "color": "#ff8c00", "text": "Ox Cuba B"},
          "encoding": {
            "x": {"datum": 1733616000000, "type": "temporal", "scale": {"type": "utc", "domain": [1733616000000, 1733724000000], "nice": false}, "axis": null},
            "y": {"datum": 4, "type": "quantitative", "scale": {"domain": [0, 5], "nice": false, "zero": false}, "axis": null}
          }
        },
        {
          "data": {"name": "oxnote"},
          "transform": [{"filter": "datum.pos === 'max'"}],
          "mark": {"type": "text", "align": "center", "baseline": "middle", "fontSize": 27, "dy": -17, "fill": "#ebe7e1", "stroke": "#ebe7e1", "strokeWidth": 10, "strokeJoin": "round"},
          "encoding": {
            "x": {"field": "t", "type": "temporal", "scale": {"type": "utc", "domain": [1733616000000, 1733724000000], "nice": false}, "axis": null},
            "y": {"field": "ppm", "type": "quantitative", "scale": {"domain": [0, 5], "nice": false, "zero": false}, "axis": null},
            "text": {"field": "txt"}
          }
        },
        {
          "data": {"name": "oxnote"},
          "transform": [{"filter": "datum.pos === 'max'"}],
          "mark": {"type": "text", "align": "center", "baseline": "middle", "fontSize": 27, "dy": -17},
          "encoding": {
            "x": {"field": "t", "type": "temporal", "scale": {"type": "utc", "domain": [1733616000000, 1733724000000], "nice": false}, "axis": null},
            "y": {"field": "ppm", "type": "quantitative", "scale": {"domain": [0, 5], "nice": false, "zero": false}, "axis": null},
            "color": {"field": "serie", "type": "nominal", "legend": null, "scale": {"domain": ["Ox Cuba A", "Ox Cuba B"], "range": ["#8b0000", "#ff8c00"]}},
            "text": {"field": "txt"}
          }
        },
        {
          "data": {"name": "oxnote"},
          "transform": [{"filter": "datum.pos === 'end'"}],
          "mark": {"type": "text", "align": "right", "baseline": "middle", "fontSize": 27, "dy": 18},
          "encoding": {
            "x": {"field": "t", "type": "temporal", "scale": {"type": "utc", "domain": [1733616000000, 1733724000000], "nice": false}, "axis": null},
            "y": {"field": "ppm", "type": "quantitative", "scale": {"domain": [0, 5], "nice": false, "zero": false},
              "axis": {"orient": "right", "values": [0.5, 1, 1.5, 2, 2.5, 3, 3.5, 4, 4.5], "grid": false, "ticks": true, "tickSize": 4, "tickWidth": 1.5, "tickColor": "#000000", "offset": -5, "labels": false, "domain": false, "title": null}},
            "color": {"field": "serie", "type": "nominal", "legend": null, "scale": {"domain": ["Ox Cuba A", "Ox Cuba B"], "range": ["#8b0000", "#ff8c00"]}},
            "text": {"field": "txt"}
          }
        },
        {
          "data": {"values": [{}]},
          "mark": {"type": "rule", "color": "#b0b0f8", "strokeWidth": 2, "clip": false},
          "encoding": {
            "x": {"datum": 1733612400000, "type": "temporal", "scale": {"type": "utc", "domain": [1733616000000, 1733724000000], "nice": false}, "axis": null},
            "x2": {"datum": 1733727600000},
            "y": {"datum": 5, "type": "quantitative", "scale": {"domain": [0, 5], "nice": false, "zero": false}, "axis": null}
          }
        }
      ]
    },
    {
      "width": 2479, "height": 320.5,
      "resolve": {"scale": {"y": "independent"}, "axis": {"x": "independent", "y": "independent"}},
      "layer": [
        {
          "data": {"values": [{}]},
          "mark": {"type": "rule", "color": "#c0c0fa", "strokeWidth": 1.5},
          "encoding": {
            "x": {"datum": 1733637600000, "type": "temporal", "scale": {"type": "utc", "domain": [1733616000000, 1733724000000], "nice": false}, "axis": null}
          }
        },
        {
          "data": {"name": "fl"},
          "mark": {"type": "line", "interpolate": "step-after", "strokeWidth": 2.5, "color": "#ff0000"},
          "encoding": {
            "x": {"field": "t", "type": "temporal", "scale": {"type": "utc", "domain": [1733616000000, 1733724000000], "nice": false},
              "axis": {"grid": true, "gridColor": "#e2dddb", "gridWidth": 2.5, "ticks": false, "labels": false, "domain": false, "title": null,
                "values": [1733616000000, 1733619600000, 1733623200000, 1733626800000, 1733630400000, 1733634000000, 1733637600000, 1733641200000, 1733644800000, 1733648400000, 1733652000000, 1733655600000, 1733659200000, 1733662800000, 1733666400000, 1733670000000, 1733673600000, 1733677200000, 1733680800000, 1733684400000, 1733688000000, 1733691600000, 1733695200000, 1733698800000, 1733702400000, 1733706000000, 1733709600000, 1733713200000, 1733716800000, 1733720400000, 1733724000000]}},
            "y": {"field": "m3h", "type": "quantitative", "scale": {"domain": [0, 100], "nice": false, "zero": false},
              "axis": {"orient": "left", "values": [0, 10, 20, 30, 40, 50, 60, 70, 80, 90, 100], "grid": true, "gridColor": "#e2dddb", "gridWidth": {"condition": {"test": "datum.value === 50", "value": 7}, "value": 3}, "ticks": true, "tickSize": 4, "tickWidth": 1.5, "tickColor": "#000000", "offset": -6, "labels": false, "domain": false, "title": null}}
          }
        },
        {
          "data": {"name": "fd"},
          "mark": {"type": "circle", "size": 210, "color": "#ff0000", "opacity": 1},
          "encoding": {
            "x": {"field": "t", "type": "temporal", "scale": {"type": "utc", "domain": [1733616000000, 1733724000000], "nice": false}, "axis": null},
            "y": {"field": "m3h", "type": "quantitative", "scale": {"domain": [0, 100], "nice": false, "zero": false},
              "axis": {"orient": "right", "values": [10, 20, 30, 40, 50, 60, 70, 80, 90], "grid": false, "ticks": true, "tickSize": 4, "tickWidth": 1.5, "tickColor": "#000000", "offset": -5, "labels": false, "domain": false, "title": null}}
          }
        },
        {
          "data": {"values": [{}]},
          "mark": {"type": "text", "align": "left", "baseline": "alphabetic", "fontSize": 22, "dy": 1, "color": "#ff0000", "text": "Fangos en Exceso (m³/h)"},
          "encoding": {
            "x": {"datum": 1733616000000, "type": "temporal", "scale": {"type": "utc", "domain": [1733616000000, 1733724000000], "nice": false}, "axis": null},
            "y": {"datum": 90, "type": "quantitative", "scale": {"domain": [0, 100], "nice": false, "zero": false}, "axis": null}
          }
        },
        {
          "data": {"name": "flnote"},
          "transform": [{"filter": "datum.pos === 'max'"}],
          "mark": {"type": "text", "align": "center", "baseline": "middle", "fontSize": 27, "dy": -17, "fill": "#ebe7e1", "stroke": "#ebe7e1", "strokeWidth": 10, "strokeJoin": "round"},
          "encoding": {
            "x": {"field": "t", "type": "temporal", "scale": {"type": "utc", "domain": [1733616000000, 1733724000000], "nice": false}, "axis": null},
            "y": {"field": "m3h", "type": "quantitative", "scale": {"domain": [0, 100], "nice": false, "zero": false}, "axis": null},
            "text": {"field": "txt"}
          }
        },
        {
          "data": {"name": "flnote"},
          "transform": [{"filter": "datum.pos === 'max'"}],
          "mark": {"type": "text", "align": "center", "baseline": "middle", "fontSize": 27, "dy": -17, "color": "#ff0000"},
          "encoding": {
            "x": {"field": "t", "type": "temporal", "scale": {"type": "utc", "domain": [1733616000000, 1733724000000], "nice": false}, "axis": null},
            "y": {"field": "m3h", "type": "quantitative", "scale": {"domain": [0, 100], "nice": false, "zero": false}, "axis": null},
            "text": {"field": "txt"}
          }
        },
        {
          "data": {"name": "flnote"},
          "transform": [{"filter": "datum.pos === 'end'"}],
          "mark": {"type": "text", "align": "right", "baseline": "middle", "fontSize": 27, "dy": 18, "fill": "#ebe7e1", "stroke": "#ebe7e1", "strokeWidth": 10, "strokeJoin": "round"},
          "encoding": {
            "x": {"field": "t", "type": "temporal", "scale": {"type": "utc", "domain": [1733616000000, 1733724000000], "nice": false}, "axis": null},
            "y": {"field": "m3h", "type": "quantitative", "scale": {"domain": [0, 100], "nice": false, "zero": false}, "axis": null},
            "text": {"field": "txt"}
          }
        },
        {
          "data": {"name": "flnote"},
          "transform": [{"filter": "datum.pos === 'end'"}],
          "mark": {"type": "text", "align": "right", "baseline": "middle", "fontSize": 27, "dy": 18, "color": "#ff0000"},
          "encoding": {
            "x": {"field": "t", "type": "temporal", "scale": {"type": "utc", "domain": [1733616000000, 1733724000000], "nice": false}, "axis": null},
            "y": {"field": "m3h", "type": "quantitative", "scale": {"domain": [0, 100], "nice": false, "zero": false}, "axis": null},
            "text": {"field": "txt"}
          }
        },
        {
          "data": {"values": [{}]},
          "mark": {"type": "rule", "color": "#b0b0f8", "strokeWidth": 2, "clip": false},
          "encoding": {
            "x": {"datum": 1733612400000, "type": "temporal", "scale": {"type": "utc", "domain": [1733616000000, 1733724000000], "nice": false}, "axis": null},
            "x2": {"datum": 1733727600000},
            "y": {"datum": 100, "type": "quantitative", "scale": {"domain": [0, 100], "nice": false, "zero": false}, "axis": null}
          }
        }
      ]
    },
    {
      "width": 2479, "height": 320.5,
      "resolve": {"scale": {"y": "independent"}, "axis": {"x": "independent", "y": "independent"}},
      "layer": [
        {
          "data": {"values": [{}]},
          "mark": {"type": "rule", "color": "#c0c0fa", "strokeWidth": 1.5},
          "encoding": {
            "x": {"datum": 1733637600000, "type": "temporal", "scale": {"type": "utc", "domain": [1733616000000, 1733724000000], "nice": false}, "axis": null}
          }
        },
        {
          "data": {"name": "niv"},
          "mark": {"type": "line", "interpolate": "step-after", "strokeWidth": 3.5, "color": "#000066"},
          "encoding": {
            "x": {"field": "t", "type": "temporal", "scale": {"type": "utc", "domain": [1733616000000, 1733724000000], "nice": false},
              "axis": {"grid": true, "gridColor": "#e2dddb", "gridWidth": 2.5, "ticks": false, "domain": false, "title": null,
                "values": [1733616000000, 1733619600000, 1733623200000, 1733626800000, 1733630400000, 1733634000000, 1733637600000, 1733641200000, 1733644800000, 1733648400000, 1733652000000, 1733655600000, 1733659200000, 1733662800000, 1733666400000, 1733670000000, 1733673600000, 1733677200000, 1733680800000, 1733684400000, 1733688000000, 1733691600000, 1733695200000, 1733698800000, 1733702400000, 1733706000000, 1733709600000, 1733713200000, 1733716800000, 1733720400000, 1733724000000],
                "labels": true, "labelExpr": "datum.value < 1733637600000 ? '' : utcFormat(datum.value, '%H')", "labelFontSize": 26, "labelColor": "#000000", "labelPadding": 9, "labelFlush": false, "labelOverlap": false, "labelBound": false}},
            "y": {"field": "pct", "type": "quantitative", "scale": {"domain": [0, 100], "nice": false, "zero": false},
              "axis": {"orient": "left", "values": [0, 10, 20, 30, 40, 50, 60, 70, 80, 90, 100], "grid": true, "gridColor": "#e2dddb", "gridWidth": {"condition": {"test": "datum.value === 50", "value": 7}, "value": 3}, "ticks": true, "tickSize": 4, "tickWidth": 1.5, "tickColor": "#000000", "offset": -6, "labels": false, "domain": false, "title": null}}
          }
        },
        {
          "data": {"values": [{}]},
          "mark": {"type": "text", "align": "left", "baseline": "alphabetic", "fontSize": 22, "dy": 1, "color": "#000080", "text": "Nivel Silo (%)"},
          "encoding": {
            "x": {"datum": 1733616000000, "type": "temporal", "scale": {"type": "utc", "domain": [1733616000000, 1733724000000], "nice": false}, "axis": null},
            "y": {"datum": 90, "type": "quantitative", "scale": {"domain": [0, 100], "nice": false, "zero": false}, "axis": null}
          }
        },
        {
          "data": {"name": "nivnote"},
          "transform": [{"filter": "datum.pos === 'max'"}],
          "mark": {"type": "text", "align": "center", "baseline": "middle", "fontSize": 27, "dy": -17, "fill": "#ebe7e1", "stroke": "#ebe7e1", "strokeWidth": 10, "strokeJoin": "round"},
          "encoding": {
            "x": {"field": "t", "type": "temporal", "scale": {"type": "utc", "domain": [1733616000000, 1733724000000], "nice": false}, "axis": null},
            "y": {"field": "pct", "type": "quantitative", "scale": {"domain": [0, 100], "nice": false, "zero": false}, "axis": null},
            "text": {"field": "txt"}
          }
        },
        {
          "data": {"name": "nivnote"},
          "transform": [{"filter": "datum.pos === 'max'"}],
          "mark": {"type": "text", "align": "center", "baseline": "middle", "fontSize": 27, "dy": -17, "color": "#000080"},
          "encoding": {
            "x": {"field": "t", "type": "temporal", "scale": {"type": "utc", "domain": [1733616000000, 1733724000000], "nice": false}, "axis": null},
            "y": {"field": "pct", "type": "quantitative", "scale": {"domain": [0, 100], "nice": false, "zero": false}, "axis": null},
            "text": {"field": "txt"}
          }
        },
        {
          "data": {"name": "nivnote"},
          "transform": [{"filter": "datum.pos === 'end'"}],
          "mark": {"type": "text", "align": "right", "baseline": "middle", "fontSize": 27, "dy": 18, "color": "#000080"},
          "encoding": {
            "x": {"field": "t", "type": "temporal", "scale": {"type": "utc", "domain": [1733616000000, 1733724000000], "nice": false}, "axis": null},
            "y": {"field": "pct", "type": "quantitative", "scale": {"domain": [0, 100], "nice": false, "zero": false},
              "axis": {"orient": "right", "values": [10, 20, 30, 40, 50, 60, 70, 80, 90], "grid": false, "ticks": true, "tickSize": 4, "tickWidth": 1.5, "tickColor": "#000000", "offset": -5, "labels": false, "domain": false, "title": null}},
            "text": {"field": "txt"}
          }
        },
        {
          "data": {"values": [{"edge": "top"}, {"edge": "bottom"}]},
          "mark": {"type": "rule", "color": "#b0b0f8", "strokeWidth": 2, "clip": false},
          "encoding": {
            "x": {"datum": 1733612400000, "type": "temporal", "scale": {"type": "utc", "domain": [1733616000000, 1733724000000], "nice": false}, "axis": null},
            "x2": {"datum": 1733727600000},
            "y": {"field": "edge", "type": "nominal", "scale": {"type": "point", "domain": ["top", "bottom"], "padding": 0}, "axis": null}
          }
        }
      ]
    }
  ]
}
